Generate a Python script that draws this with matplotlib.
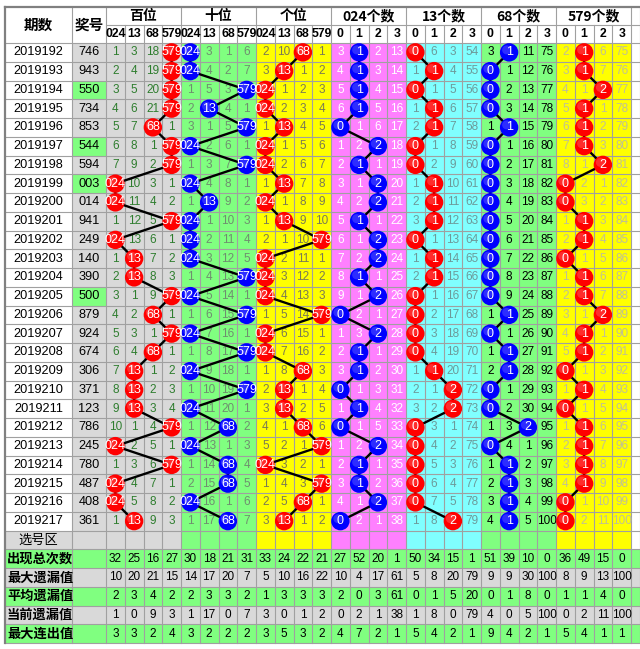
"""
plot.py - 3D lottery trend table (hundreds / tens / units digit classes)
"""

import numpy as np
import matplotlib
matplotlib.use("Agg")
import matplotlib.pyplot as plt
from matplotlib.patches import Rectangle, Circle

plt.rcParams['font.family'] = ['Liberation Sans', 'Noto Sans CJK SC', 'DejaVu Sans']

# ---- data ----
periods = [2019192, 2019193, 2019194, 2019195, 2019196, 2019197, 2019198,
           2019199, 2019200, 2019201, 2019202, 2019203, 2019204, 2019205,
           2019206, 2019207, 2019208, 2019209, 2019210, 2019211, 2019212,
           2019213, 2019214, 2019215, 2019216, 2019217]
draws = ["746", "943", "550", "734", "853", "544", "594", "003", "014", "941",
         "249", "140", "390", "500", "879", "924", "674", "306", "371", "123",
         "786", "245", "780", "487", "408", "361"]

class_labels = ["024", "13", "68", "579"]
count_labels = ["0", "1", "2", "3"]
group_titles = ["百位", "十位", "个位", "024个数", "13个数", "68个数", "579个数"]

# omission values shown in the first row (0 = hit)
first_miss_hundreds = [1, 3, 18, 0]
first_miss_tens     = [0, 3, 1, 6]
first_miss_units    = [2, 10, 0, 1]
first_miss_c024     = [3, 0, 2, 13]
first_miss_c13      = [0, 6, 3, 54]
first_miss_c68      = [3, 0, 11, 75]
first_miss_c579     = [2, 0, 6, 75]

stat_names = ["出现总次数", "最大遗漏值", "平均遗漏值", "当前遗漏值", "最大连出值"]
stat_total    = [32, 25, 16, 27, 30, 18, 21, 31, 33, 24, 22, 21, 27, 52,
                 20, 1, 50, 34, 15, 1, 51, 39, 10, 0, 36, 49, 15, 0]
stat_max_miss = [10, 20, 21, 15, 14, 17, 20, 7, 5, 10, 16, 22, 10, 4,
                 17, 61, 5, 8, 20, 79, 9, 9, 30, 100, 8, 9, 13, 100]
stat_avg_miss = [2, 3, 4, 2, 2, 3, 3, 2, 1, 3, 3, 3, 2, 0,
                 3, 61, 0, 1, 5, 20, 0, 1, 8, 0, 1, 1, 4, 0]
stat_cur_miss = [1, 0, 9, 3, 1, 17, 0, 7, 3, 0, 1, 2, 0, 2,
                 1, 38, 1, 8, 0, 79, 4, 0, 5, 100, 0, 2, 11, 100]
stat_max_run  = [3, 3, 2, 4, 3, 2, 2, 2, 3, 5, 3, 2, 4, 7,
                 2, 1, 5, 4, 2, 1, 9, 4, 2, 1, 5, 4, 1, 1]

# ---- styles ----
grp_bg   = ["#d9d9d9", "#80ff80", "#ffff00", "#ff80ff", "#80ffff", "#80ff80", "#ffff00"]
grp_fg   = ["#2e7d2e", "#6f8f6f", "#7a7a55", "#ffffff", "#6d9a9a", "#000000", "#c0c095"]
grp_ball = ["#ff0000", "#0000ff", "#ff0000", "#0000ff", "#ff0000", "#0000ff", "#ff0000"]
GREEN, GRAY, GRID = "#80ff80", "#d9d9d9", "#a0a0a0"

X0, W_QI, W_JH, CW = 5, 67, 34, 18.75
XC = X0 + W_QI + W_JH            # first group cell
Y0, HH, RH = 7, 18, 18.75
YD = Y0 + 2 * HH                 # first data row

DIGIT_CLASS = {0: 0, 2: 0, 4: 0, 1: 1, 3: 1, 6: 2, 8: 2, 5: 3, 7: 3, 9: 3}


def omissions(hits, first):
    miss = np.zeros((len(hits), 4), dtype=int)
    miss[0] = first
    for r in range(1, len(hits)):
        for k in range(4):
            miss[r, k] = 0 if hits[r] == k else miss[r - 1, k] + 1
    return miss


digits = [[int(c) for c in d] for d in draws]
pos_hits = [[DIGIT_CLASS[d[p]] for d in digits] for p in range(3)]
cnt_hits = [[sum(DIGIT_CLASS[x] == c for x in d) for d in digits] for c in range(4)]
hits = pos_hits + cnt_hits
firsts = [first_miss_hundreds, first_miss_tens, first_miss_units,
          first_miss_c024, first_miss_c13, first_miss_c68, first_miss_c579]
misses = [omissions(h, f) for h, f in zip(hits, firsts)]
ball_text = [class_labels] * 3 + [count_labels] * 4

n = len(periods)
stat_rows = [stat_total, stat_max_miss, stat_avg_miss, stat_cur_miss, stat_max_run]
stat_bg = [GREEN, GRAY, GREEN, GRAY, GREEN]
Y_SEL = YD + n * RH
Y_STAT = Y_SEL + RH
Y_END = Y_STAT + len(stat_rows) * RH

fig = plt.figure(figsize=(6.4, 6.49), dpi=100)
ax = fig.add_axes([0, 0, 1, 1])
ax.set_xlim(0, 640)
ax.set_ylim(649, 0)
ax.axis("off")


def cell_x(g, k):
    return XC + (4 * g + k) * CW


# backgrounds
ax.add_patch(Rectangle((X0, Y0), 640 - X0, Y_END - Y0, fc="white", ec="none", zorder=0))
for g in range(7):
    ax.add_patch(Rectangle((cell_x(g, 0), YD), 4 * CW, (n + 1) * RH,
                           fc=grp_bg[g], ec="none", zorder=0))
for r, d in enumerate(draws):
    pair = len(set(d)) == 2
    ax.add_patch(Rectangle((X0 + W_QI, YD + r * RH), W_JH, RH,
                           fc=GREEN if pair else GRAY, ec="none", zorder=0))
ax.add_patch(Rectangle((X0, Y_SEL), W_QI + W_JH, RH, fc=GRAY, ec="none", zorder=0))
for i, bg in enumerate(stat_bg):
    ax.add_patch(Rectangle((X0, Y_STAT + i * RH), 640 - X0, RH, fc=bg, ec="none", zorder=0))

# grid
lw = 0.8
for r in range(n + 1 + len(stat_rows) + 1):
    y = YD + r * RH
    ax.plot([X0, 640], [y, y], color=GRID, lw=lw, zorder=1)
ax.plot([XC, 640], [Y0 + HH, Y0 + HH], color=GRID, lw=lw, zorder=1)
for x in [X0 + W_QI, XC, 640]:
    ax.plot([x, x], [Y0, Y_END], color=GRID, lw=lw, zorder=1)
for j in range(1, 29):
    x = XC + j * CW
    top = Y0 if j % 4 == 0 else Y0 + HH
    ax.plot([x, x], [top, Y_END], color=GRID, lw=lw, zorder=1)
ax.plot([X0, X0], [Y0, Y_END], color="#808080", lw=1.6, zorder=1)
ax.plot([X0, 640], [Y0, Y0], color="#808080", lw=1.6, zorder=1)

# headers
hdr = dict(ha="center", va="center", fontweight="bold", family=["Noto Sans CJK SC"])
ax.text(X0 + W_QI / 2, Y0 + HH, "期数", fontsize=10.5, **hdr)
ax.text(X0 + W_QI + W_JH / 2, Y0 + HH, "奖号", fontsize=10.5, **hdr)
for g, title in enumerate(group_titles):
    ax.text(cell_x(g, 2), Y0 + HH / 2, title, fontsize=10, **hdr)
    for k in range(4):
        ax.text(cell_x(g, k) + CW / 2, Y0 + HH * 1.5, ball_text[g][k],
                ha="center", va="center", fontsize=8.8, fontweight="bold")

# data rows
for r in range(n):
    yc = YD + (r + 0.5) * RH
    ax.text(X0 + W_QI / 2, yc, str(periods[r]), ha="center", va="center", fontsize=9.2)
    ax.text(X0 + W_QI + W_JH / 2, yc, draws[r], ha="center", va="center", fontsize=9.2)
    for g in range(7):
        for k in range(4):
            if hits[g][r] != k:
                ax.text(cell_x(g, k) + CW / 2, yc, str(misses[g][r, k]),
                        ha="center", va="center", fontsize=8.5, color=grp_fg[g], zorder=2)

# ball connectors and balls
for g in range(7):
    xs = [cell_x(g, k) + CW / 2 for k in hits[g]]
    ys = [YD + (r + 0.5) * RH for r in range(n)]
    ax.plot(xs, ys, color="black", lw=1.7, zorder=3)
    for r in range(n):
        circ = Circle((xs[r], ys[r]), 9.2, fc=grp_ball[g], ec="none", zorder=4)
        ax.add_patch(circ)
        ax.add_patch(Circle((xs[r] - 2.5, ys[r] - 2.5), 4.5, fc="white",
                            alpha=0.18, ec="none", zorder=4))
        t = ax.text(xs[r], ys[r], ball_text[g][hits[g][r]], ha="center", va="center",
                    fontsize=9, color="white", zorder=5)
        t.set_clip_path(circ)

# selection row and statistics
ax.text(X0 + W_QI / 2, Y_SEL + RH / 2, "选号区", ha="center", va="center",
        fontsize=9.5, family=["Noto Sans CJK SC"])
for i, (name, vals) in enumerate(zip(stat_names, stat_rows)):
    yc = Y_STAT + (i + 0.5) * RH
    ax.text(X0 + 2, yc, name, ha="left", va="center", fontsize=9.5,
            fontweight="bold", family=["Noto Sans CJK SC"])
    for j, v in enumerate(vals):
        ax.text(XC + (j + 0.5) * CW, yc, str(v), ha="center", va="center", fontsize=8.5)

fig.savefig("out.png", dpi=100)
